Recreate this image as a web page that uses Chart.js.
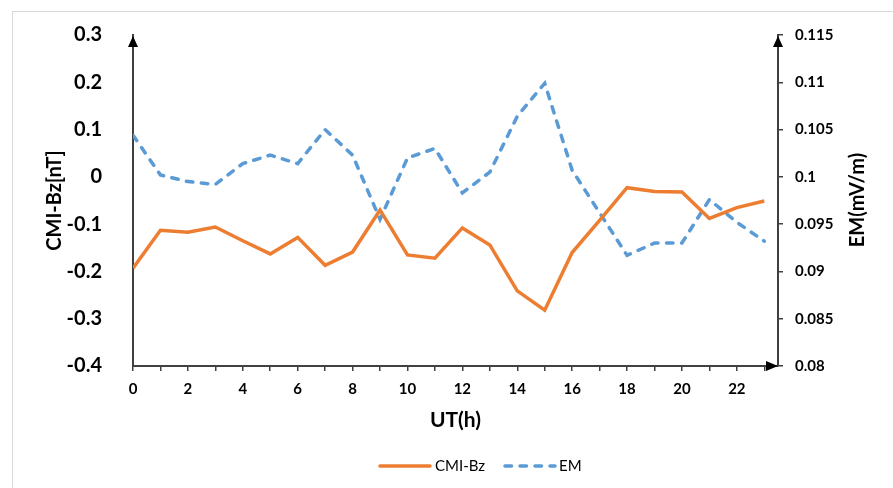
<!DOCTYPE html>
<html>
<head>
<meta charset="utf-8">
<script src="https://cdn.jsdelivr.net/npm/chart.js@4.4.0/dist/chart.umd.min.js"></script>
<style>
    html, body { margin: 0; padding: 0; background: #fff; }
    #wrap { width: 893px; height: 488px; position: relative; }
</style>
</head>
<body>
<div id="wrap"><canvas id="chart" width="893" height="488"></canvas></div>
<script>
// data
const hours = [0, 1, 2, 3, 4, 5, 6, 7, 8, 9, 10, 11, 12, 13, 14, 15, 16, 17, 18, 19, 20, 21, 22, 23];
const cmiBz = [-0.193, -0.113, -0.117, -0.106, -0.135, -0.163, -0.128, -0.187, -0.159, -0.070, -0.165, -0.172,
    -0.108, -0.144, -0.241, -0.282, -0.160, -0.092, -0.023, -0.031, -0.032, -0.088, -0.065, -0.051];
const em = [0.1044, 0.1002, 0.0995, 0.0992, 0.1014, 0.1023, 0.1014, 0.1050, 0.1023, 0.0955, 0.1020, 0.1030,
    0.0983, 0.1005, 0.1064, 0.1099, 0.1007, 0.0962, 0.0917, 0.0930, 0.0930, 0.0976, 0.0952, 0.0932];

const leftTicks = [-0.4, -0.3, -0.2, -0.1, 0, 0.1, 0.2, 0.3];
const rightTicks = [0.08, 0.085, 0.09, 0.095, 0.1, 0.105, 0.11, 0.115];
const xLabels = [0, 2, 4, 6, 8, 10, 12, 14, 16, 18, 20, 22];

const orange = '#ED7D31';
const blue = '#5B9BD5';
const axisColor = '#404040';
const font = 'Lato, "Open Sans", sans-serif';

Chart.defaults.color = '#000';
Chart.defaults.font.family = font;

// frame, arrows, right title and legend
const extras = {
    id: 'extras',
    beforeDraw(chart) {
        const ctx = chart.ctx;
        ctx.save();
        ctx.strokeStyle = '#d9d9d9';
        ctx.lineWidth = 1;
        ctx.strokeRect(12.5, 11.5, 1000, 1000);
        ctx.restore();
    },
    afterDraw(chart) {
        const ctx = chart.ctx;
        const { left, right, top, bottom } = chart.chartArea;
        ctx.save();
        ctx.fillStyle = '#000';
        // arrows
        [left, right].forEach(x => {
            ctx.beginPath();
            ctx.moveTo(x, top + 1);
            ctx.lineTo(x - 5, top + 12);
            ctx.lineTo(x + 5, top + 12);
            ctx.closePath();
            ctx.fill();
        });
        ctx.beginPath();
        ctx.moveTo(right, bottom);
        ctx.lineTo(right - 12, bottom - 5);
        ctx.lineTo(right - 12, bottom + 5);
        ctx.closePath();
        ctx.fill();

        // right axis title, reads bottom to top
        ctx.translate(858, 200);
        ctx.rotate(-Math.PI / 2);
        ctx.font = 'bold 20px ' + font;
        ctx.textAlign = 'center';
        ctx.textBaseline = 'middle';
        ctx.fillText('EM(mV/m)', 0, 0);
        ctx.restore();

        // legend
        ctx.save();
        const ly = 466;
        ctx.lineWidth = 3.5;
        ctx.lineCap = 'round';
        ctx.strokeStyle = orange;
        ctx.beginPath();
        ctx.moveTo(380, ly);
        ctx.lineTo(430, ly);
        ctx.stroke();
        ctx.strokeStyle = blue;
        ctx.setLineDash([6.5, 8.5]);
        ctx.beginPath();
        ctx.moveTo(505, ly);
        ctx.lineTo(555, ly);
        ctx.stroke();
        ctx.setLineDash([]);
        ctx.font = '15px ' + font;
        ctx.fillStyle = '#000';
        ctx.textBaseline = 'middle';
        ctx.fillText('CMI-Bz', 435, ly);
        ctx.fillText('EM', 559, ly);
        ctx.restore();
    }
};

const ctx = document.getElementById('chart').getContext('2d');
new Chart(ctx, {
    type: 'line',
    data: {
        datasets: [{
            label: 'CMI-Bz',
            data: hours.map((h, i) => ({ x: h, y: cmiBz[i] })),
            borderColor: orange,
            borderWidth: 3.5,
            pointRadius: 0,
            tension: 0,
            yAxisID: 'y'
        }, {
            label: 'EM',
            data: hours.map((h, i) => ({ x: h, y: em[i] })),
            borderColor: blue,
            borderWidth: 3.5,
            borderDash: [6.5, 8.5],
            borderCapStyle: 'round',
            pointRadius: 0,
            tension: 0,
            yAxisID: 'y1'
        }]
    },
    options: {
        responsive: false,
        animation: false,
        layout: { padding: { top: 35, left: 0, right: 0, bottom: 0 } },
        plugins: {
            legend: { display: false },
            tooltip: { enabled: false }
        },
        scales: {
            x: {
                type: 'linear',
                min: 0,
                max: 23.5,
                afterBuildTicks: scale => { scale.ticks = hours.map(h => ({ value: h })); },
                afterFit: scale => { scale.height = 122; },
                grid: { drawOnChartArea: false, tickLength: 5, color: axisColor, lineWidth: 1.5 },
                border: { color: axisColor, width: 2 },
                ticks: {
                    autoSkip: false,
                    maxRotation: 0,
                    padding: 9,
                    font: { size: 15, weight: 'bold' },
                    callback: v => xLabels.includes(v) ? String(v) : ''
                },
                title: {
                    display: true,
                    text: 'UT(h)',
                    font: { size: 21, weight: 'bold' },
                    padding: { top: 0, bottom: 55 }
                }
            },
            y: {
                position: 'left',
                min: leftTicks[0],
                max: leftTicks[leftTicks.length - 1],
                afterBuildTicks: scale => { scale.ticks = leftTicks.map(v => ({ value: v })); },
                afterFit: scale => { scale.width = 133; },
                grid: { display: false },
                border: { color: axisColor, width: 2 },
                ticks: {
                    padding: 23,
                    font: { size: 20, weight: 'bold' },
                    callback: v => String(parseFloat(v.toFixed(1)))
                },
                title: {
                    display: true,
                    text: 'CMI-Bz[nT]',
                    font: { size: 20, weight: 'bold' },
                    padding: { top: 43, bottom: 0 }
                }
            },
            y1: {
                position: 'right',
                min: rightTicks[0],
                max: rightTicks[rightTicks.length - 1],
                afterBuildTicks: scale => { scale.ticks = rightTicks.map(v => ({ value: v })); },
                afterFit: scale => { scale.width = 115; },
                grid: { drawOnChartArea: false, tickLength: 5, color: axisColor, lineWidth: 1.5 },
                border: { color: axisColor, width: 2 },
                ticks: {
                    padding: 12,
                    font: { size: 15, weight: 'bold' },
                    callback: v => String(parseFloat(v.toFixed(3)))
                }
            }
        }
    },
    plugins: [extras]
});
</script>
</body>
</html>
